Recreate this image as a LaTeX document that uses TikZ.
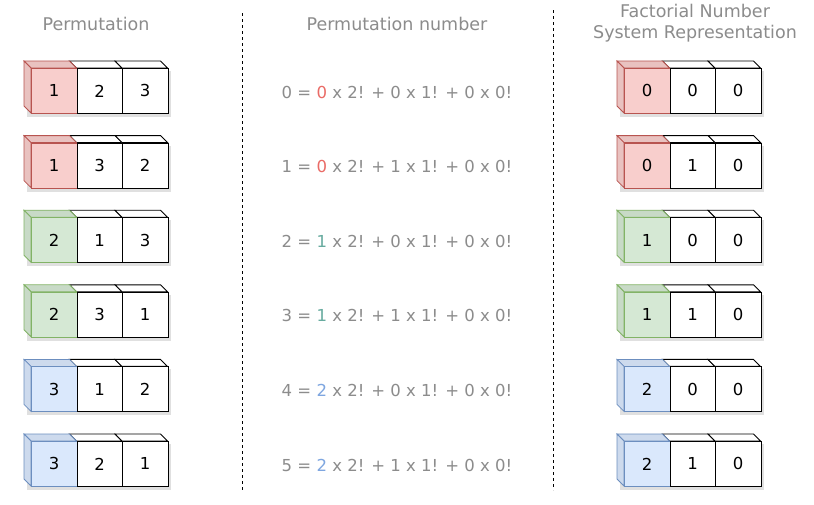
\documentclass[tikz,border=0pt]{standalone}
\usepackage{fontspec}
\setmainfont{DejaVu Sans}
\definecolor{txtgray}{HTML}{8C8C8C}
\definecolor{redF}{HTML}{F8CECC}\definecolor{redS}{HTML}{B85450}
\definecolor{grnF}{HTML}{D5E8D4}\definecolor{grnS}{HTML}{82B366}
\definecolor{bluF}{HTML}{DAE8FC}\definecolor{bluS}{HTML}{6C8EBF}
\definecolor{hlR}{HTML}{EA6B66}\definecolor{hlG}{HTML}{67AB9F}\definecolor{hlB}{HTML}{7EA6E0}
\colorlet{redD}{redF!94!black}\colorlet{grnD}{grnF!94!black}\colorlet{bluD}{bluF!94!black}
\tikzset{
  front/.style={draw, line width=0.9pt, minimum width=45.5pt, minimum height=45pt, anchor=north west, inner sep=0pt, font=\fontsize{16.5}{16.5}\selectfont},
  hdr/.style={text=txtgray, font=\fontsize{17.5}{21}\selectfont, align=center},
  eq/.style={text=txtgray, font=\fontsize{16.5}{18}\selectfont},
  sep/.style={dashed, line width=0.8pt, dash pattern=on 3pt off 3pt},
}
% #1 prefix, #2 x, #3 y, #4 fill, #5 stroke, #6 side, #7 #8 #9 digits
\newcommand{\cuberow}[9]{%
  \fill[black!12] (#2-4,#3+3) rectangle (#2+139.5,#3+49);
  \foreach \k in {1,2}{\fill[white,draw=black,line width=0.9pt] (#2+45.5*\k-7,#3-7) -- (#2+45.5*\k+38.5,#3-7) -- (#2+45.5*\k+45.5,#3) -- (#2+45.5*\k,#3) -- cycle;}
  \fill[#6,draw=#5,line width=0.8pt] (#2-7,#3-7) -- (#2+38.5,#3-7) -- (#2+45.5,#3) -- (#2,#3) -- cycle;
  \fill[#6,draw=#5,line width=0.8pt] (#2-7,#3-7) -- (#2,#3) -- (#2,#3+45) -- (#2-7,#3+38) -- cycle;
  \node[front, fill=#4, draw=#5, line width=0.8pt] (#1a) at (#2,#3) {#7};
  \node[front, fill=white, draw=black] (#1b) at (#2+45.5,#3) {#8};
  \node[front, fill=white, draw=black] (#1c) at (#2+91,#3) {#9};
}
\newcommand{\eqn}[4]{%
  \node[eq] (eq#2) at (397,#1+24) {#2 = \textcolor{#4col}{#4} x 2! + #3 x 1! + 0 x 0!};
}
\begin{document}
\begin{tikzpicture}[x=1pt,y=-1pt]
\useasboundingbox (0,0) rectangle (814,504);
\fill[white] (0,0) rectangle (814,504);
% headers
\node[hdr] (h1) at (96,24) {Permutation};
\node[hdr] (h2) at (397,24) {Permutation number};
\node[hdr] (h3) at (695,23) {Factorial Number\\System Representation};
% separators
\coordinate (s1t) at (242.5,13); \coordinate (s1b) at (242.5,492);
\coordinate (s2t) at (553,10); \coordinate (s2b) at (553,490);
\draw[sep] (s1t) -- (s1b);
\draw[sep] (s2t) -- (s2b);
% rows
\cuberow{p1}{31}{68}{redF}{redS}{redD}{1}{2}{3}
\cuberow{p2}{31}{142.6}{redF}{redS}{redD}{1}{3}{2}
\cuberow{p3}{31}{217.2}{grnF}{grnS}{grnD}{2}{1}{3}
\cuberow{p4}{31}{291.8}{grnF}{grnS}{grnD}{2}{3}{1}
\cuberow{p5}{31}{366.4}{bluF}{bluS}{bluD}{3}{1}{2}
\cuberow{p6}{31}{441}{bluF}{bluS}{bluD}{3}{2}{1}
\cuberow{f1}{624}{68}{redF}{redS}{redD}{0}{0}{0}
\cuberow{f2}{624}{142.6}{redF}{redS}{redD}{0}{1}{0}
\cuberow{f3}{624}{217.2}{grnF}{grnS}{grnD}{1}{0}{0}
\cuberow{f4}{624}{291.8}{grnF}{grnS}{grnD}{1}{1}{0}
\cuberow{f5}{624}{366.4}{bluF}{bluS}{bluD}{2}{0}{0}
\cuberow{f6}{624}{441}{bluF}{bluS}{bluD}{2}{1}{0}
% equations
\colorlet{0col}{hlR}\colorlet{1col}{hlG}\colorlet{2col}{hlB}
\eqn{68}{0}{0}{0}
\eqn{142.6}{1}{1}{0}
\eqn{217.2}{2}{0}{1}
\eqn{291.8}{3}{1}{1}
\eqn{366.4}{4}{0}{2}
\eqn{441}{5}{1}{2}
\end{tikzpicture}
\end{document}
